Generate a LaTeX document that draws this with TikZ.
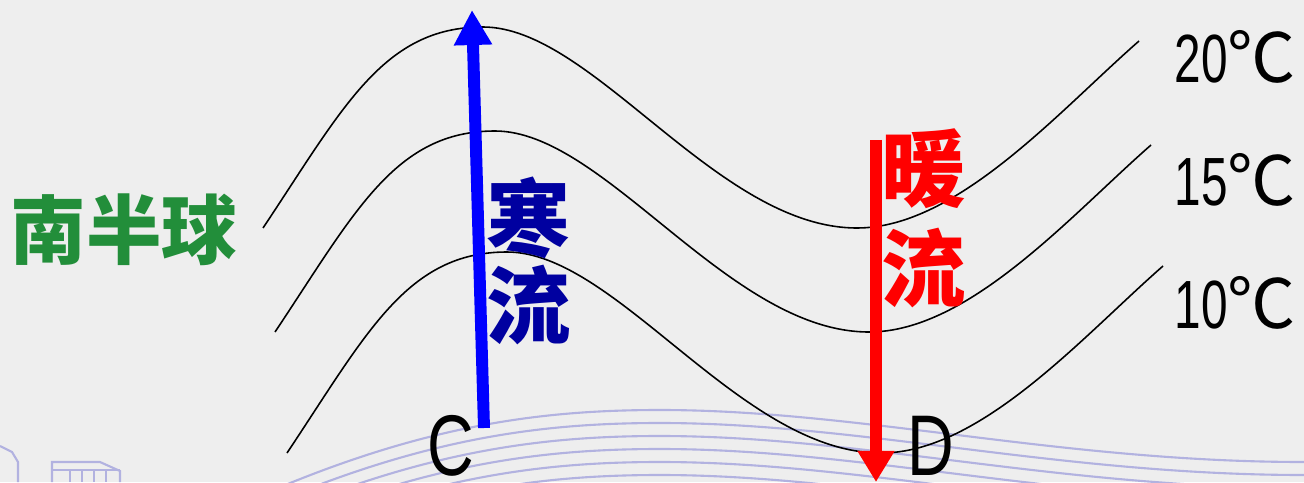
\documentclass[tikz,border=0pt]{standalone}
\usepackage{fontspec}
\setmainfont{Liberation Sans}
\newfontfamily\cjk{Noto Sans CJK SC}
\usepackage{tikz}
\usetikzlibrary{arrows.meta}
\definecolor{bggray}{RGB}{238,238,238}
\definecolor{hemgreen}{RGB}{34,142,58}
\definecolor{coldblue}{RGB}{0,0,255}
\definecolor{coldtext}{RGB}{0,0,160}
\definecolor{warmred}{RGB}{255,0,0}
\definecolor{decoline}{RGB}{178,178,224}
\newcommand{\isoC}[1]{\scalebox{0.7}[1]{#1}{\cjk ℃}}
\newcommand{\narrow}[1]{\scalebox{0.75}[1]{#1}}

\begin{document}
\begin{tikzpicture}[x=0.01cm,y=-0.01cm,
    iso/.style={black, line width=0.45pt},
    deco/.style={decoline, line width=0.6pt},
    cold/.style={coldblue, line width=3.4pt, -{Triangle[length=3.5mm,width=3.6mm]}},
    warm/.style={warmred, line width=3.4pt, -{Triangle[length=3.1mm,width=3.5mm]}},
    every node/.style={inner sep=0pt}]
    \useasboundingbox (0,0) rectangle (1304,482);
    \fill[bggray] (0,0) rectangle (1304,482);

    \begin{scope}
    \clip (0,0) rectangle (1304,482);
    \foreach \k in {0,...,7}
        \draw[deco, shift={(0,13*\k)}] (250,500) .. controls (420,425) and (540,410) .. (660,410) .. controls (860,410) and (1060,462) .. (1304,462);
    \draw[deco] (0,446) -- (12,452) -- (18,462) -- (18,482);
    \draw[deco] (52,482) -- (52,462) -- (100,462) -- (120,471) -- (120,482);
    \draw[deco] (52,470) -- (120,470);
    \foreach \x in {70,82,94,106}
        \draw[deco] (\x,470) -- (\x,482);
    \end{scope}

    \foreach \dx/\dy in {0/0,12/104,24/225}
        \draw[iso, shift={(\dx,\dy)}] (263,228) .. controls (343,108) and (383,27) .. (483,27) .. controls (593,27) and (717,228) .. (857,228) .. controls (957,228) and (1059,111) .. (1139,41);

    \node (sh) at (124,230) {\cjk\bfseries\fontsize{21.5}{24}\selectfont\color{hemgreen}南半球};
    \node[align=center, text=coldtext, font={\cjk\bfseries\fontsize{24}{24.7}\selectfont}] (coldlbl) at (529,261) {寒\\流};
    \node[align=center, text=warmred, font={\cjk\bfseries\fontsize{24}{28.4}\selectfont}] (warmlbl) at (924,218) {暖\\流};

    \node[anchor=base, font=\fontsize{24.5}{26}\selectfont] (c) at (451,475) {\narrow{C}};
    \node[anchor=base, font=\fontsize{24.5}{26}\selectfont] (d) at (931,475) {\narrow{D}};

    \node[anchor=base west, font=\fontsize{19.4}{22}\selectfont] (t20) at (1174,83) {\isoC{20}};
    \node[anchor=base west, font=\fontsize{19.4}{22}\selectfont] (t15) at (1174,205) {\isoC{15}};
    \node[anchor=base west, font=\fontsize{19.4}{22}\selectfont] (t10) at (1174,328) {\isoC{10}};

    \coordinate (coldtail) at (484,428);
    \coordinate (coldtip) at (472,10);
    \coordinate (warmtail) at (876,140);
    \coordinate (warmtip) at (876,482);
    \draw[cold] (coldtail) -- (coldtip);
    \draw[warm] (warmtail) -- (warmtip);
\end{tikzpicture}
\end{document}
